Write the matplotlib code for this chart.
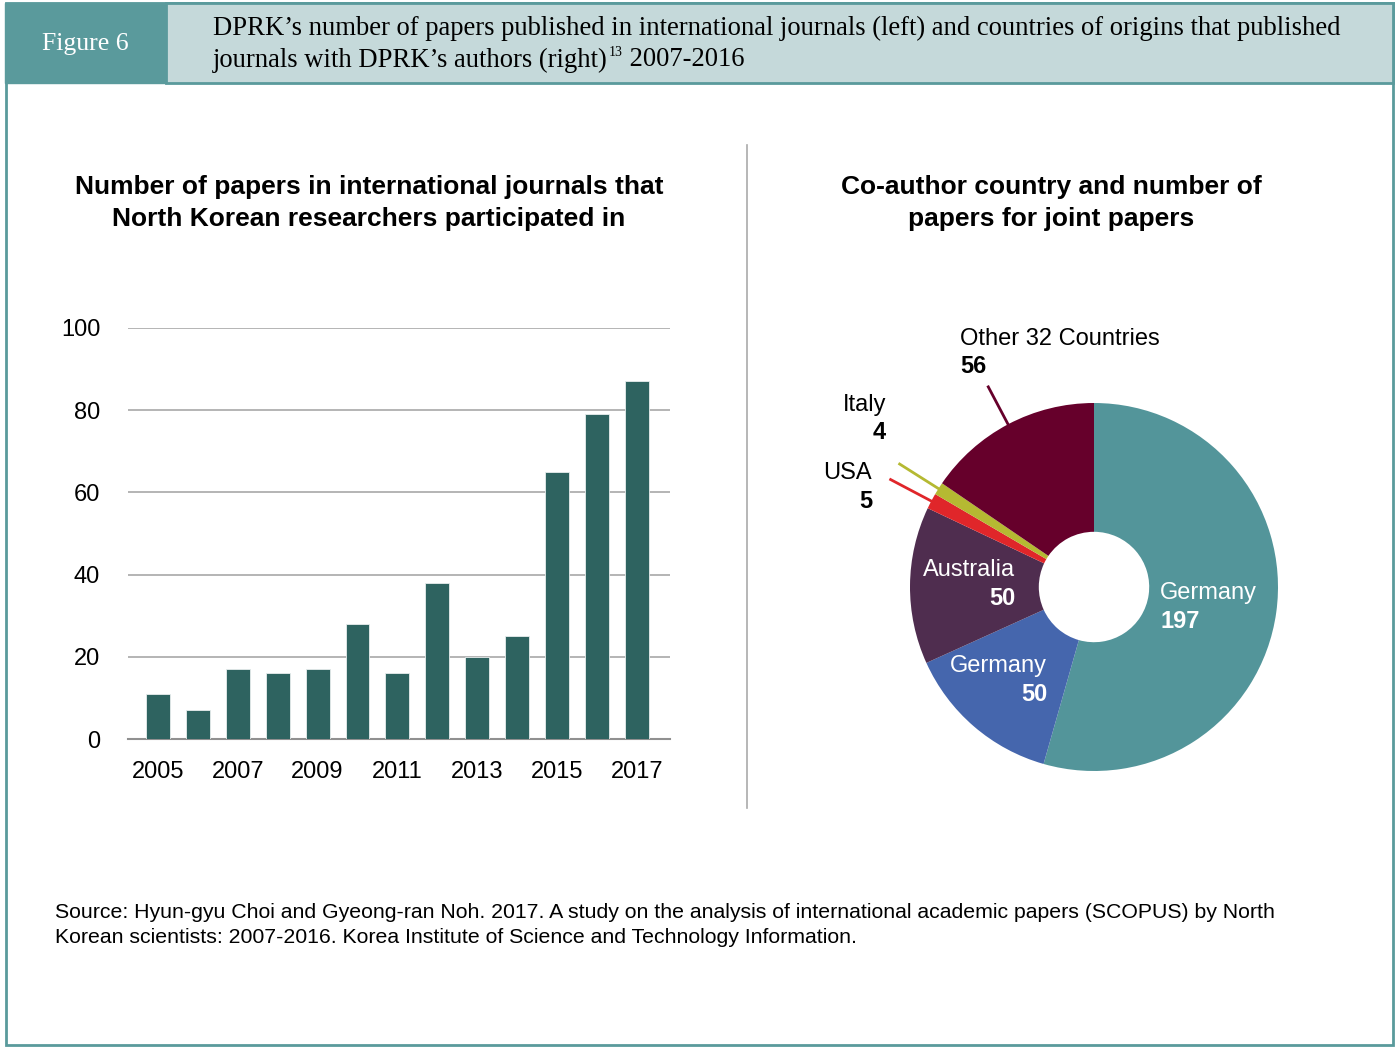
import numpy as np
import matplotlib.pyplot as plt
from matplotlib.patches import Rectangle

plt.rcParams['font.family'] = ['Liberation Sans', 'DejaVu Sans']

# Bar chart data
years = list(range(2005, 2018))
papers = [11, 7, 17, 16, 17, 28, 16, 38, 20, 25, 65, 79, 87]

# Donut data (clockwise from 12 o'clock)
countries = ['Germany', 'Germany', 'Australia', 'USA', 'Italy', 'Other 32 Countries']
counts = [197, 50, 50, 5, 4, 56]
pie_colors = ['#53959a', '#4566ad', '#4f2d4f', '#e0262a', '#b5b932', '#66002b']

W, H = 1396, 1047
fig = plt.figure(figsize=(W / 100, H / 100), dpi=100)

# overlay in pixel coordinates for frame, header, notes
bg = fig.add_axes([0, 0, 1, 1])
bg.set_xlim(0, W)
bg.set_ylim(H, 0)
bg.axis('off')
teal = '#5a9a9c'
bg.add_patch(Rectangle((6, 3), 1387, 1042, fill=False, edgecolor=teal, lw=2))
bg.add_patch(Rectangle((5, 3), 161, 80, facecolor=teal, edgecolor=teal))
bg.add_patch(Rectangle((166, 3), 1227, 80, facecolor='#c5d9da', edgecolor=teal, lw=2))
bg.text(85, 44, 'Figure 6', family='Liberation Serif', fontsize=18.5, color='white',
        ha='center', va='center')
serif = dict(family='Liberation Serif', fontsize=19.2, va='center')
bg.text(213, 28, 'DPRK\u2019s number of papers published in international journals (left) and countries of origins that published',
        **serif)
rend = fig.canvas.get_renderer()
t1 = bg.text(213, 60, 'journals with DPRK\u2019s authors (right)', **serif)
x1 = t1.get_window_extent(rend).x1
t2 = bg.text(x1 + 1, 52, '13', family='Liberation Serif', fontsize=10, va='center')
x2 = t2.get_window_extent(rend).x1
bg.text(x2, 60, ' 2007-2016', **serif)
bg.plot([747, 747], [145, 808], color='#aaaaaa', lw=1.2)

bg.text(369, 203, 'Number of papers in international journals that\nNorth Korean researchers participated in',
        fontsize=19, fontweight='bold', ha='center', va='center', linespacing=1.42)
bg.text(1051, 203, 'Co-author country and number of\npapers for joint papers',
        fontsize=19, fontweight='bold', ha='center', va='center', linespacing=1.42)
bg.text(55, 925, 'Source: Hyun-gyu Choi and Gyeong-ran Noh. 2017. A study on the analysis of international academic papers (SCOPUS) by North\nKorean scientists: 2007-2016. Korea Institute of Science and Technology Information.',
        fontsize=15.3, va='center', linespacing=1.45)

# Bar chart
ax = fig.add_axes([128 / W, (H - 739) / H, (670 - 128) / W, (739 - 328) / H])
pos = list(range(len(years)))
ax.bar(pos, papers, width=0.6, color='#2e6360', edgecolor='#e8eeee', lw=0.6, zorder=3)
ax.set_xlim(-0.75, 12.83)
ax.set_ylim(0, 100)
ax.set_yticks([0, 20, 40, 60, 80, 100])
ax.set_xticks(pos[::2])
ax.set_xticklabels([str(y) for y in years[::2]])
ax.tick_params(length=0, labelsize=17, colors='black')
ax.tick_params(axis='y', pad=20)
ax.tick_params(axis='x', pad=16)
ax.yaxis.grid(True, color='#a8a8a8', lw=1.2, zorder=0)
for s in ['top', 'right', 'left']:
    ax.spines[s].set_visible(False)
ax.spines['bottom'].set_color('#909090')
ax.spines['bottom'].set_linewidth(1.5)

# Donut chart
R = 184
half = 280
cx, cy = 1094, 587
pax = fig.add_axes([(cx - half) / W, (H - cy - half) / H, 2 * half / W, 2 * half / H])
wedges, _ = pax.pie(counts, colors=pie_colors, startangle=90, counterclock=False,
                    radius=1, wedgeprops=dict(width=0.70, linewidth=0))
lim = half / R
pax.set_xlim(-lim, lim)
pax.set_ylim(-lim, lim)
pax.set_aspect('equal')
pax.axis('off')

for w, c in zip(wedges[3:], pie_colors[3:]):
    mid = np.deg2rad((w.theta1 + w.theta2) / 2)
    other = c == '#66002b'
    r_out = 1.23 if other else 1.25
    r_in = 1.0 if other else 0.55
    pax.plot([r_in * np.cos(mid), r_out * np.cos(mid)],
             [r_in * np.sin(mid), r_out * np.sin(mid)], color=c, lw=2,
             zorder=3 if other else 0)

fs = 17
# outside labels
pax.text(-0.728, 1.348, countries[5], fontsize=fs, ha='left', va='center')
pax.text(-0.728, 1.196, str(counts[5]), fontsize=fs, fontweight='bold', ha='left', va='center')
pax.text(-1.130, 0.989, countries[4], fontsize=fs, ha='right', va='center')
pax.text(-1.130, 0.837, str(counts[4]), fontsize=fs, fontweight='bold', ha='right', va='center')
pax.text(-1.207, 0.620, countries[3], fontsize=fs, ha='right', va='center')
pax.text(-1.207, 0.462, str(counts[3]), fontsize=fs, fontweight='bold', ha='right', va='center')
# inside labels
pax.text(-0.429, 0.092, countries[2], fontsize=fs, color='white', ha='right', va='center')
pax.text(-0.429, -0.060, str(counts[2]), fontsize=fs, fontweight='bold', color='white', ha='right', va='center')
pax.text(-0.255, -0.429, countries[1], fontsize=fs, color='white', ha='right', va='center')
pax.text(-0.255, -0.582, str(counts[1]), fontsize=fs, fontweight='bold', color='white', ha='right', va='center')
pax.text(0.359, -0.033, countries[0], fontsize=fs, color='white', ha='left', va='center')
pax.text(0.359, -0.185, str(counts[0]), fontsize=fs, fontweight='bold', color='white', ha='left', va='center')

fig.savefig('out.png', dpi=100)
